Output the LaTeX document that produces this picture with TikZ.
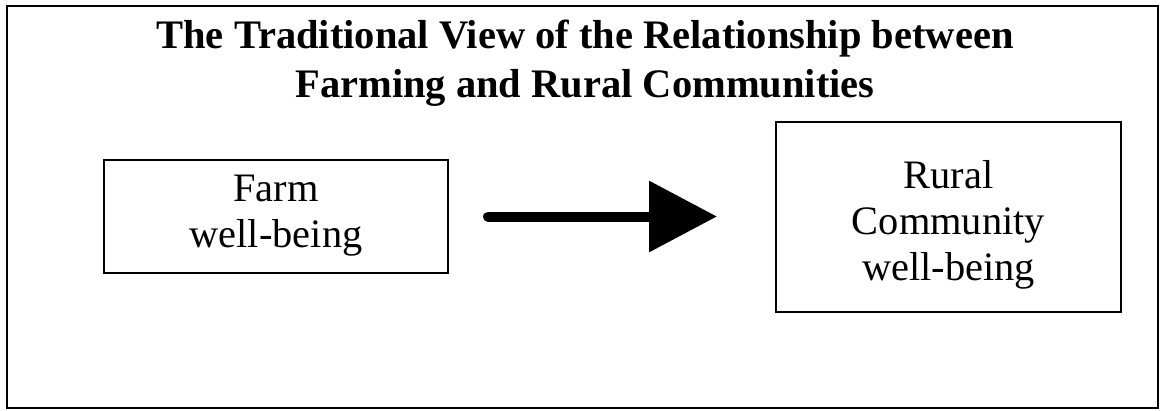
\documentclass[tikz,border=0pt]{standalone}
\usepackage{fontspec}
\setmainfont{Liberation Serif}
\usetikzlibrary{arrows.meta}
\begin{document}
\begin{tikzpicture}[x=1pt,y=-1pt,
  boxstyle/.style={draw, line width=2pt, inner sep=0pt},
  boxtext/.style={align=center, inner sep=0pt, font=\fontsize{40.4}{46}\selectfont},
  titlestyle/.style={align=center, inner sep=0pt, font=\fontsize{40.5}{49}\selectfont\bfseries},
  flow/.style={line width=10pt, line cap=round, -{Triangle[length=68pt,width=69pt]}}]
\useasboundingbox (0,0) rectangle (1160,410);
\draw[line width=2pt] (7,6) rectangle (1158,408);
\node[titlestyle] (title) at (585,63) {The Traditional View of the Relationship between\\Farming and Rural Communities};
\node[boxstyle, minimum width=344pt, minimum height=113pt] (farm) at (276,216.5) {};
\node[boxtext] (farmtext) at (276,215.6) {Farm\\well-being};
\node[boxstyle, minimum width=345pt, minimum height=190pt] (rural) at (948.5,217) {};
\node[boxtext] (ruraltext) at (948.5,224.6) {Rural\\Community\\well-being};
\draw[flow, shorten <=39pt, shorten >=58pt] (farm.east) -- (farm.east -| rural.west);
\end{tikzpicture}
\end{document}
